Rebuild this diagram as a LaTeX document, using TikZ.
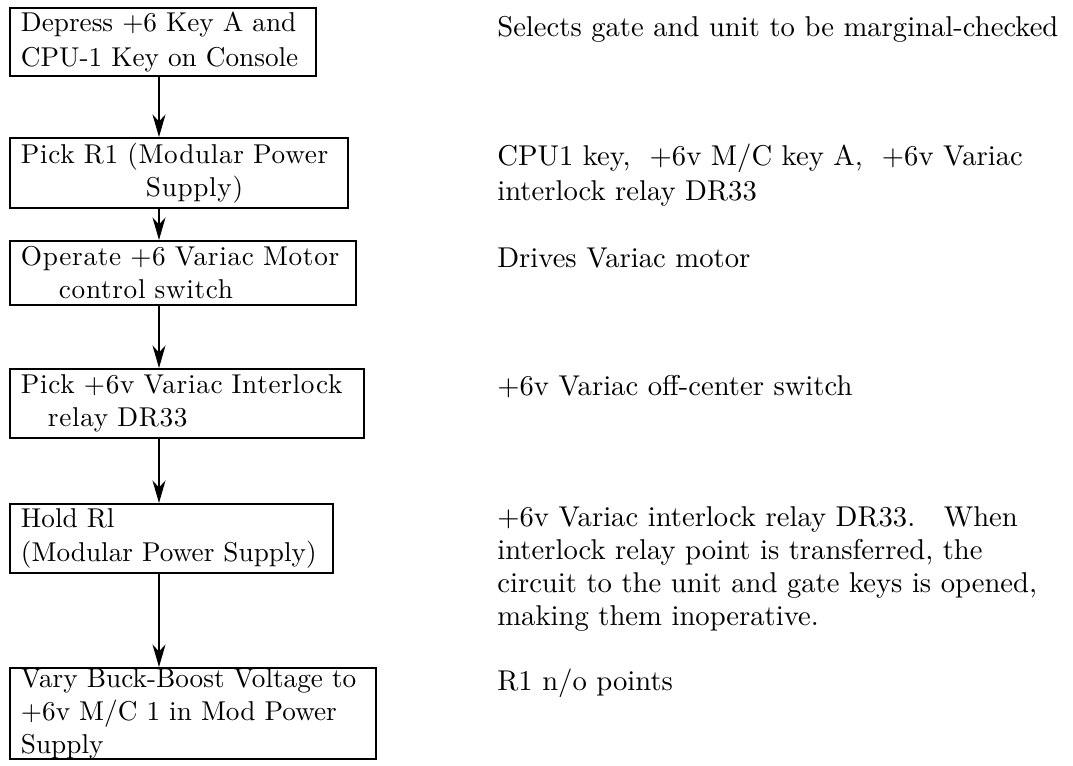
\documentclass[tikz,border=0pt]{standalone}
\usepackage{fontspec}
\setmainfont{lmroman10-regular.otf}
\newfontfamily\wideboxfont{lmroman10-regular.otf}[LetterSpace=2.5]
\usetikzlibrary{arrows.meta,positioning}

\begin{document}
\begin{tikzpicture}[
            x=0.02cm, y=-0.02cm,
            font=\fontsize{15.5}{18.8}\selectfont,
            % Stili dei nodi
            flowbox/.style 2 args={rectangle, draw=black, line width=1.1pt, anchor=north west, inner xsep=0.22cm, inner ysep=0pt, align=left, text width=#1, minimum height=#2},
            widetext/.style={font=\wideboxfont\fontsize{15.5}{18.8}\selectfont},
            note/.style={anchor=west, inner sep=0pt, align=left, font=\fontsize{16.3}{18.6}\selectfont},
            arrow/.style={line width=1.1pt, -{Stealth[length=0.45cm, width=0.26cm, inset=0.14cm]}}
        ]
        \useasboundingbox (0,0) rectangle (1073,766);

        % Blocchi
        \node (pick_key)  [flowbox={5.68cm}{1.36cm}, font=\fontsize{15.5}{19.6}\selectfont] at (9,7) {Depress +6 Key A and\\CPU-1 Key on Console};
        \node (pick_r1)   [flowbox={6.32cm}{1.40cm}, widetext] at (9,137) {Pick R1 (Modular Power\\\hspace*{2.5cm}Supply)};
        \node (motor_sw)  [flowbox={6.48cm}{1.28cm}, widetext] at (9,240) {Operate +6 Variac Motor\\\hspace*{0.76cm}control switch};
        \node (pick_dr33) [flowbox={6.64cm}{1.38cm}, widetext] at (9,368) {Pick +6v Variac Interlock\\\hspace*{0.54cm}relay DR33};
        \node (hold_r1)   [flowbox={6.02cm}{1.38cm}] at (9,503) {Hold Rl\\(Modular Power Supply)};
        \node (vary_bb)   [flowbox={6.88cm}{1.82cm}] at (9,667) {Vary Buck-Boost Voltage to\\+6v M/C 1 in Mod Power\\Supply};

        % Note a destra
        \node (note_key)   [note] at (497,29)  {Selects gate and unit to be marginal-checked};
        \node (note_r1)    [note, font=\fontsize{16.3}{19.8}\selectfont] at (497,175) {CPU1 key,\ \ +6v M/C key A,\ \ +6v Variac\\interlock relay DR33};
        \node (note_motor) [note] at (497,258) {Drives Variac motor};
        \node (note_dr33)  [note] at (497,387) {+6v Variac off-center switch};
        \node (note_hold)  [note] at (497,569) {+6v Variac interlock relay DR33.\ \ \ When\\interlock relay point is transferred, the\\circuit to the unit and gate keys is opened,\\making them inoperative.};
        \node (note_vary)  [note] at (497,683) {R1 n/o points};

        % Collegamenti
        \coordinate (spine) at (159,0);
        \draw [arrow] (pick_key.south -| spine)  -- (pick_r1.north -| spine);
        \draw [arrow] (pick_r1.south -| spine)   -- (motor_sw.north -| spine);
        \draw [arrow] (motor_sw.south -| spine)  -- (pick_dr33.north -| spine);
        \draw [arrow] (pick_dr33.south -| spine) -- (hold_r1.north -| spine);
        \draw [arrow] (hold_r1.south -| spine)   -- (vary_bb.north -| spine);

    \end{tikzpicture}
\end{document}
